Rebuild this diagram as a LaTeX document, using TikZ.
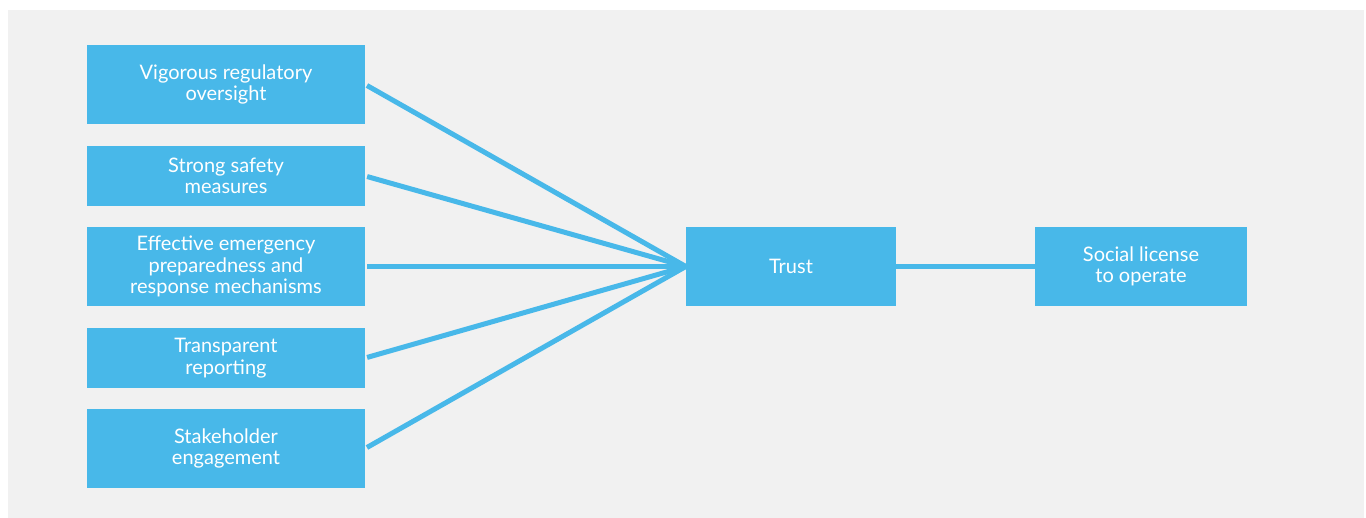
\documentclass[tikz,border=0pt]{standalone}
\usepackage{fontspec}
\setmainfont{Lato}
\usepackage{tikz}

\definecolor{boxblue}{HTML}{48B8E9}
\definecolor{backgrey}{HTML}{F1F1F1}

\begin{document}
\begin{tikzpicture}[x=1pt,y=-1pt,
  every text node part/.style={align=center},
  box/.style={fill=boxblue,text=white,inner sep=0pt,
    font=\fontsize{20}{21.5}\selectfont},
  link/.style={boxblue,line width=5pt,shorten <=2pt}]
  \useasboundingbox (0,0) rectangle (1366,518);
  \fill[backgrey] (8,10) rectangle (1364,518);

  \node[box,minimum width=278pt,minimum height=79pt] (oversight) at (226,84.5) {Vigorous regulatory\\oversight};
  \node[box,minimum width=278pt,minimum height=60pt] (safety) at (226,176) {Strong safety\\measures};
  \node[box,minimum width=278pt,minimum height=79pt] (emergency) at (226,266.5) {Effective emergency\\preparedness and\\response mechanisms};
  \node[box,minimum width=278pt,minimum height=60pt] (reporting) at (226,358) {Transparent\\reporting};
  \node[box,minimum width=278pt,minimum height=79pt] (engagement) at (226,448.5) {Stakeholder\\engagement};

  \node[box,minimum width=210pt,minimum height=79pt] (trust) at (791,266.5) {Trust};
  \node[box,minimum width=212pt,minimum height=79pt] (license) at (1141,266.5) {Social license\\to operate};

  \draw[link] (oversight.east) -- (trust.west);
  \draw[link] (safety.east) -- (trust.west);
  \draw[link] (emergency.east) -- (trust.west);
  \draw[link] (reporting.east) -- (trust.west);
  \draw[link] (engagement.east) -- (trust.west);
  \draw[link,shorten <=0pt] (trust.east) -- (license.west);
\end{tikzpicture}
\end{document}
